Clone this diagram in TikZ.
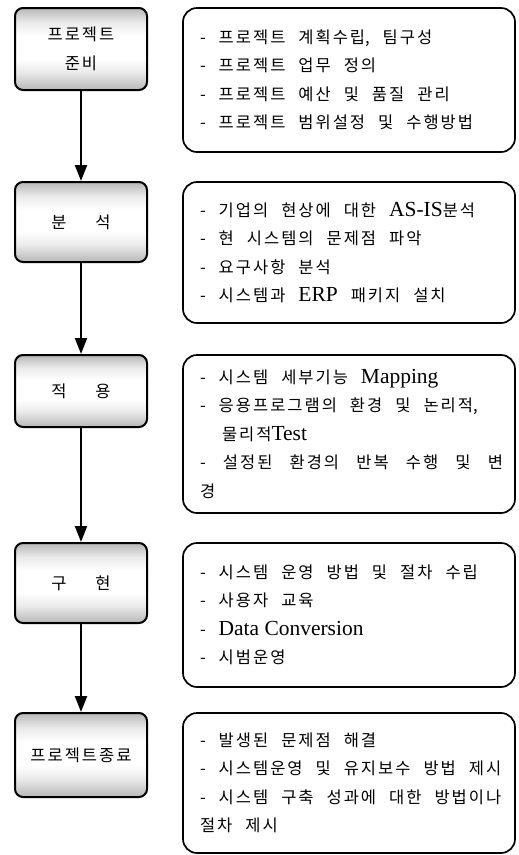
\documentclass[tikz,border=0pt]{standalone}
\usepackage{fontspec}
\setmainfont{Liberation Serif}[Scale=1.3]
\newfontfamily\kr{Noto Sans CJK KR}
\usetikzlibrary{arrows.meta,positioning}
\tikzset{>={Triangle[width=12pt,length=16pt]}}
% a little air between Hangul syllables
\newXeTeXintercharclass\hangulcls
\count255="AC00
\loop \XeTeXcharclass\count255=\hangulcls \ifnum\count255<"D7A3 \advance\count255 by 1 \repeat
\XeTeXinterchartoks\hangulcls\hangulcls={\kern2pt}
% grey bands at top and bottom of the stage boxes
\pgfdeclareverticalshading{stageshade}{100bp}{color(0bp)=(black!28); color(25bp)=(black!28); color(36bp)=(black!8); color(44bp)=(white); color(58bp)=(white); color(66bp)=(black!8); color(75bp)=(black!28); color(100bp)=(black!28)}
\newcommand\krtext{\fontsize{16.5}{28.5}\selectfont\kr\XeTeXinterchartokenstate=1\relax}
\newcommand\en[1]{{\rmfamily\spaceskip=0pt #1}}

\begin{document}
\begin{tikzpicture}[x=1pt,y=-1pt,
  every node/.style={font=\krtext},
  stage/.style={draw, line width=2pt, rounded corners=8pt, shading=stageshade, minimum width=132pt, align=center, inner sep=0pt},
  task/.style={draw, line width=1.7pt, rounded corners=14pt, minimum width=332pt, text width=320pt, inner sep=0pt,
    execute at begin node={\XeTeXinterchartokenstate=1\spaceskip=13pt plus 6pt minus 3pt\leftskip=11pt\relax}},
  flow/.style={->, line width=2.2pt}]
  \useasboundingbox (0,0) rectangle (519,855);

  % stages
  \node[stage, minimum height=82pt] (prep) at (81,49) {프로젝트\\준비};
  \node[stage, minimum height=80pt] (anal) at (81,222) {분\hspace{29pt}석};
  \node[stage, minimum height=72pt] (appl) at (81,391) {적\hspace{29pt}용};
  \node[stage, minimum height=80pt] (impl) at (81,583) {구\hspace{29pt}현};
  \node[stage, minimum height=84pt] (close) at (81,755) {프로젝트종료};

  % tasks of each stage
  \node[task, minimum height=144pt] (prepT) at (349,80) {- 프로젝트 계획수립, 팀구성\\- 프로젝트 업무 정의\\- 프로젝트 예산 및 품질 관리\\- 프로젝트 범위설정 및 수행방법};
  \node[task, minimum height=141pt] (analT) at (349,252.5) {- 기업의 현상에 대한 \en{AS-IS}분석\\- 현 시스템의 문제점 파악\\- 요구사항 분석\\- 시스템과 \en{ERP} 패키지 설치};
  \node[task, minimum height=158pt] (applT) at (349,434) {- 시스템 세부기능 \en{Mapping}\\- 응용프로그램의 환경 및 논리적,\\\hspace*{22pt}물리적\en{Test}\\\makebox[303pt][s]{- 설정된 환경의 반복 수행 및 변}\\경};
  \node[task, minimum height=144pt] (implT) at (349,615) {- 시스템 운영 방법 및 절차 수립\\- 사용자 교육\\- \en{Data Conversion}\\- 시범운영};
  \node[task, minimum height=140pt] (closeT) at (349,783) {- 발생된 문제점 해결\\- 시스템운영 및 유지보수 방법 제시\\- 시스템 구축 성과에 대한 방법이나\\절차 제시};

  \draw[flow] (prep) -- (anal);
  \draw[flow] (anal) -- (appl);
  \draw[flow] (appl) -- (impl);
  \draw[flow] (impl) -- (close);
\end{tikzpicture}
\end{document}
